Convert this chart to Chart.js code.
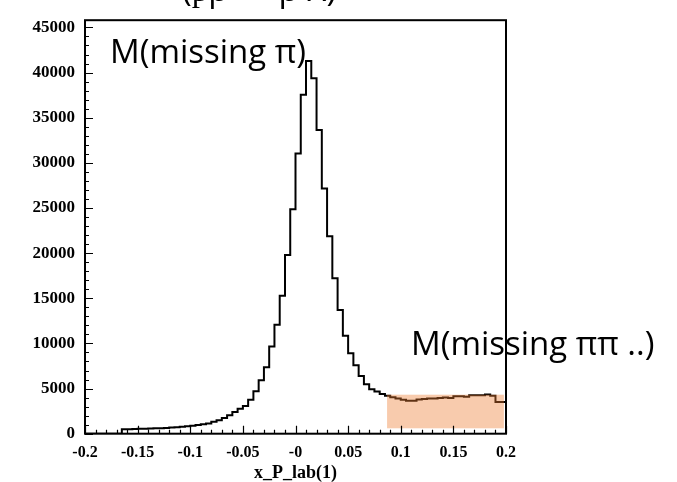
<!DOCTYPE html>
<html>
<head>
<meta charset="utf-8">
<script src="https://cdn.jsdelivr.net/npm/chart.js@4.4.1/dist/chart.umd.min.js"></script>
<style>
  html, body { margin: 0; padding: 0; background: #fff; }
  canvas { display: block; }
</style>
</head>
<body>
<canvas id="chart" width="677" height="482"></canvas>
<script>
// histogram: 80 bins of 0.005 from -0.2 to 0.2
const xMin = -0.2;
const xMax = 0.2;
const binWidth = 0.005;
const counts = [
  0, 0, 0, 0, 0, 0, 0, 0, 480, 500,
  520, 540, 550, 570, 590, 610, 640, 680, 720, 760,
  820, 880, 950, 1040, 1130, 1310, 1490, 1740, 2040, 2400,
  2770, 3060, 3750, 4690, 5920, 7370, 9650, 12080, 15270, 19800,
  24870, 31030, 37550, 41280, 39360, 33640, 27150, 21860, 17220, 13700,
  10840, 8920, 7580, 6380, 5480, 4930, 4680, 4390, 4200, 4050,
  3900, 3750, 3650, 3650, 3800, 3850, 3900, 3900, 3950, 4000,
  3950, 4150, 4150, 4100, 4250, 4250, 4250, 4350, 4200, 3500,
];

const xTickValues = [-0.2, -0.15, -0.1, -0.05, 0, 0.05, 0.1, 0.15, 0.2];
const xTickLabels = ["-0.2", "-0.15", "-0.1", "-0.05", "-0", "0.05", "0.1", "0.15", "0.2"];
const yTickValues = [0, 5000, 10000, 15000, 20000, 25000, 30000, 35000, 40000, 45000];
const yTickLabels = ["0", "5000", "10000", "15000", "20000", "25000", "30000", "35000", "40000", "45000"];
const yMax = 45800;

// shaded region (data coordinates)
const shadeX = [0.087, 0.198];
const shadeY = [600, 4320];

const points = counts.map((c, i) => ({ x: xMin + i * binWidth, y: c }));
points.push({ x: xMax, y: counts[counts.length - 1] });

const tickFont = { family: "Liberation Serif", size: 17, weight: "bold" };

const framePlugin = {
  id: "frame",
  afterDatasetsDraw(chart) {
    const { ctx, chartArea: a, scales } = chart;
    const xs = scales.x;
    const ys = scales.y;

    // shaded box, drawn over the line
    ctx.save();
    ctx.fillStyle = "rgba(237, 125, 49, 0.4)";
    const l = xs.getPixelForValue(shadeX[0]);
    const r = xs.getPixelForValue(shadeX[1]);
    const t = ys.getPixelForValue(shadeY[1]);
    const b = ys.getPixelForValue(shadeY[0]);
    ctx.fillRect(l, t, r - l, b - t);
    ctx.restore();

    ctx.save();
    ctx.strokeStyle = "#000";
    ctx.lineWidth = 2;
    ctx.strokeRect(a.left, a.top, a.right - a.left, a.bottom - a.top);

    // inward ticks, majors and minors
    ctx.lineWidth = 1.2;
    ctx.beginPath();
    for (let v = 0; v <= 45000; v += 1000) {
      const y = Math.round(ys.getPixelForValue(v)) + 0.5;
      const len = v % 5000 === 0 ? 8 : 4;
      ctx.moveTo(a.left, y);
      ctx.lineTo(a.left + len, y);
    }
    for (let k = -20; k <= 20; k++) {
      const x = Math.round(xs.getPixelForValue(k / 100)) + 0.5;
      const len = k % 5 === 0 ? 8 : 4;
      ctx.moveTo(x, a.bottom);
      ctx.lineTo(x, a.bottom - len);
    }
    ctx.stroke();
    ctx.restore();
  },
  afterDraw(chart) {
    const { ctx } = chart;
    ctx.save();
    ctx.fillStyle = "#000";
    ctx.font = "33px 'Open Sans'";
    ctx.textBaseline = "alphabetic";
    ctx.fillText("M(missing \u03c0)", 110, 63);
    ctx.fillText("M(missing \u03c0\u03c0 ..)", 411, 355);
    // clipped title at the very top
    ctx.fillText("(p\u0305p \u2192 p X)", 182, 1);
    ctx.restore();
  },
};

new Chart(document.getElementById("chart"), {
  type: "line",
  data: {
    datasets: [
      {
        data: points,
        stepped: "after",
        borderColor: "#000",
        borderWidth: 2,
        pointRadius: 0,
        fill: false,
      },
    ],
  },
  options: {
    responsive: false,
    animation: false,
    events: [],
    layout: { padding: { left: 0, top: 12, right: 171, bottom: 0 } },
    plugins: { legend: { display: false }, tooltip: { enabled: false } },
    scales: {
      x: {
        type: "linear",
        min: xMin,
        max: xMax,
        border: { display: false },
        grid: { display: false, drawTicks: false },
        afterBuildTicks: (scale) => {
          scale.ticks = xTickValues.map((v) => ({ value: v }));
        },
        afterFit: (scale) => {
          scale.height = 48.3;
        },
        ticks: {
          autoSkip: false,
          maxRotation: 0,
          padding: 10,
          color: "#000",
          font: { ...tickFont, size: 16 },
          callback: (v, i) => xTickLabels[i],
        },
        title: {
          display: true,
          text: "x_P_lab(1)",
          color: "#000",
          font: { family: "Liberation Serif", size: 18, weight: "bold" },
          padding: { top: 0, bottom: -2 },
        },
      },
      y: {
        type: "linear",
        min: 0,
        max: yMax,
        border: { display: false },
        grid: { display: false, drawTicks: false },
        afterBuildTicks: (scale) => {
          scale.ticks = yTickValues.map((v) => ({ value: v }));
        },
        afterFit: (scale) => {
          scale.width = 85;
        },
        ticks: {
          autoSkip: false,
          padding: 10,
          color: "#000",
          font: tickFont,
          callback: (v, i) => yTickLabels[i],
        },
      },
    },
  },
  plugins: [framePlugin],
});
</script>
</body>
</html>
